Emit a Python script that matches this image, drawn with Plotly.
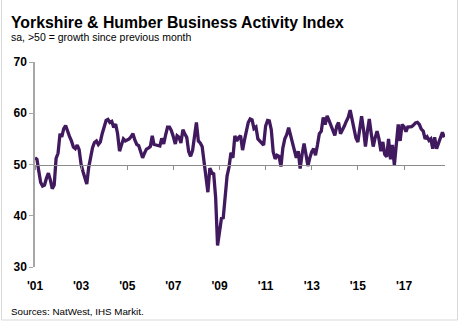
import pandas as pd
import plotly.graph_objects as go

# Monthly index, Jan 2001 - Oct 2018
start_month = "2001-01-01"
activity_index = [
    51.3, 51.0, 48.8, 46.5, 45.8, 46.0, 47.3, 48.3, 47.0, 45.3, 46.0, 51.2,  # 2001
    52.2, 56.0, 55.4, 57.0, 57.6, 56.4, 55.5, 54.6, 53.4, 53.1, 53.8, 52.9,  # 2002
    50.0, 48.6, 47.4, 46.2, 49.4, 51.8, 53.3, 54.3, 54.6, 53.9, 54.4, 56.0,  # 2003
    57.5, 58.6, 58.8, 58.2, 58.4, 57.2, 57.9, 56.0, 52.6, 53.6, 55.0, 54.6,  # 2004
    54.8, 55.0, 55.4, 56.0, 54.8, 53.9, 53.7, 52.6, 51.3, 52.2, 53.0, 53.2,  # 2005
    53.5, 55.6, 53.9, 53.8, 53.7, 53.6, 55.1, 54.0, 55.8, 57.3, 57.3, 56.6,  # 2006
    55.4, 54.0, 55.6, 55.3, 54.2, 56.8, 56.0, 55.3, 52.5, 51.6, 52.7, 55.5,  # 2007
    58.2, 54.6, 54.2, 53.5, 50.5, 47.2, 44.6, 49.3, 48.4, 48.2, 43.5, 34.2,  # 2008
    37.5, 39.5, 39.6, 44.8, 47.8, 49.5, 52.3, 51.3, 55.6, 54.6, 55.3, 55.6,  # 2009
    52.8, 54.8, 56.2, 58.2, 58.9, 58.7, 57.0, 57.3, 55.0, 54.6, 54.2, 53.8,  # 2010
    57.5, 58.6, 58.5, 56.8, 52.5, 51.1, 51.8, 51.6, 49.6, 53.2, 55.0, 55.8,  # 2011
    57.2, 55.6, 54.0, 53.0, 51.3, 52.6, 49.2, 52.0, 54.1, 52.0, 49.7, 51.3,  # 2012
    52.5, 53.1, 51.8, 53.8, 56.0, 56.5, 59.2, 57.8, 59.5, 58.6, 57.5, 56.5,  # 2013
    55.7, 57.5, 58.2, 56.0, 56.6, 57.5, 58.4, 59.2, 60.6, 58.8, 56.8, 55.2,  # 2014
    54.4, 56.6, 59.4, 56.8, 53.5, 56.5, 58.9, 56.0, 53.5, 55.2, 56.5, 55.0,  # 2015
    52.6, 54.4, 52.0, 51.5, 55.0, 51.0, 53.8, 49.9, 53.7, 57.8, 54.6, 57.8,  # 2016
    57.4, 56.4, 57.3, 57.4, 57.4, 57.7, 58.1, 58.2, 57.8, 56.9, 56.5, 55.0,  # 2017
    55.4, 54.7, 55.0, 53.1, 55.3, 53.1, 54.3, 55.6, 56.3, 55.3,              # 2018
]
months = pd.date_range(start_month, periods=len(activity_index), freq="MS")

tick_dates = ["2001-01-01", "2003-01-01", "2005-01-01", "2007-01-01", "2009-01-01",
              "2011-01-01", "2013-01-01", "2015-01-01", "2017-01-01"]
tick_labels = ["'01", "'03", "'05", "'07", "'09", "'11", "'13", "'15", "'17"]
y_ticks = [30, 40, 50, 60, 70]

W, H = 460, 322
ML, MR, MT, MB = 35, 15, 62, 55
PW, PH = W - ML - MR, H - MT - MB

FONT = "Liberation Sans, Arial, sans-serif"
LINE_COLOR = "#41195F"
AXIS_GREY = "#A6A6A6"


def paper_x(px):
    return (px - ML) / PW


def paper_y(py):
    return (H - MB - py) / PH


fig = go.Figure()
fig.add_trace(go.Scatter(
    x=months, y=activity_index, mode="lines",
    line=dict(color=LINE_COLOR, width=3.3),
    hoverinfo="skip", showlegend=False,
))

fig.update_layout(
    width=W, height=H,
    margin=dict(l=ML, r=MR, t=MT, b=MB, pad=0),
    paper_bgcolor="white", plot_bgcolor="white",
    font=dict(family=FONT, color="black"),
    showlegend=False,
    xaxis=dict(
        type="date",
        range=["2001-01-01", "2018-10-12"],
        anchor="free", position=0.5, side="bottom",
        showline=True, linecolor="#8C8C8C", linewidth=1,
        ticks="outside", ticklen=4, tickcolor="#8C8C8C",
        tickvals=tick_dates, ticktext=tick_labels,
        tickfont=dict(size=12, family=FONT, color="black", weight="bold"),
        ticklabelstandoff=106,
        showgrid=False, zeroline=False,
    ),
    yaxis=dict(
        range=[30, 70], tickvals=y_ticks,
        showline=True, linecolor=AXIS_GREY, linewidth=1.5,
        ticks="outside", ticklen=4, tickcolor=AXIS_GREY,
        tickfont=dict(size=12, family=FONT, color="black", weight="bold"),
        showgrid=False, zeroline=False,
    ),
)

# Headline, subtitle and source note
fig.add_annotation(
    text="<b>Yorkshire & Humber Business Activity Index</b>",
    xref="paper", yref="paper", x=paper_x(9), y=paper_y(22.5),
    xanchor="left", yanchor="middle", showarrow=False,
    font=dict(size=15.8, family=FONT, color="black"),
)
fig.add_annotation(
    text="sa, >50 = growth since previous month",
    xref="paper", yref="paper", x=paper_x(8.5), y=paper_y(37),
    xanchor="left", yanchor="middle", showarrow=False,
    font=dict(size=10.5, family=FONT, color="black"),
)
fig.add_annotation(
    text="Sources: NatWest, IHS Markit.",
    xref="paper", yref="paper", x=paper_x(9), y=paper_y(311.5),
    xanchor="left", yanchor="middle", showarrow=False,
    font=dict(size=9.8, family=FONT, color="black"),
)

# Thin frame around the whole chart
fig.add_shape(
    type="rect", xref="paper", yref="paper",
    x0=paper_x(1.5), x1=paper_x(457.5), y0=paper_y(320), y1=paper_y(-1),
    line=dict(color="#D9D9D9", width=1), fillcolor="rgba(0,0,0,0)", layer="below",
)

fig.write_html("out.html")
